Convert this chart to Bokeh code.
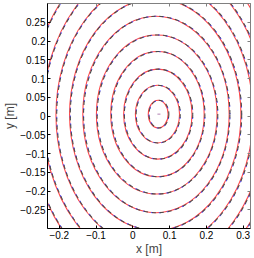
import numpy as np
from bokeh.plotting import figure
from bokeh.models import FixedTicker, ColumnDataSource, LinearAxis
from bokeh.embed import file_html
from bokeh.resources import INLINE

# ---- data ----
# dashed series (gray / blue) contour centres and semi-axes [m]
center_x = [0.071, 0.069, 0.070, 0.069, 0.067, 0.065, 0.063, 0.061, 0.060, 0.059, 0.058]
center_y = [0.005, 0.005, 0.005, 0.005, 0.004, 0.004, 0.004, 0.003, 0.003, 0.003, 0.003]
semi_x = [0.027, 0.060, 0.093, 0.127, 0.164, 0.199, 0.233, 0.268, 0.303, 0.338, 0.373]
semi_y = [0.037, 0.077, 0.120, 0.167, 0.212, 0.262, 0.309, 0.357, 0.405, 0.453, 0.501]
# solid red series, drawn slightly left of the dashed ones
red_center_x = [0.069, 0.067, 0.068, 0.067, 0.065, 0.063, 0.061, 0.059, 0.058, 0.057, 0.056]

x_ticks = [-0.2, -0.1, 0.0, 0.1, 0.2, 0.3]
x_tick_labels = ["\u22120.2", "\u22120.1", "0", "0.1", "0.2", "0.3"]
y_ticks = [-0.25, -0.2, -0.15, -0.1, -0.05, 0.0, 0.05, 0.1, 0.15, 0.2, 0.25]
y_tick_labels = ["\u22120.25", "\u22120.2", "\u22120.15", "\u22120.1", "\u22120.05", "0",
                 "0.05", "0.1", "0.15", "0.2", "0.25"]

src = ColumnDataSource(dict(
    x=center_x, xr=red_center_x, y=center_y,
    w=[2 * a for a in semi_x],
    h=[2 * b for b in semi_y],
))

p = figure(width=254, height=258, x_range=(-0.232, 0.32), y_range=(-0.3, 0.3),
           output_backend="svg", toolbar_location=None,
           min_border_left=45, min_border_right=4, min_border_top=3, min_border_bottom=30)
p.styles = {"position": "absolute", "left": "0px", "top": "0px"}

p.ellipse(x="xr", y="y", width="w", height="h", source=src, fill_color=None,
          line_color="#ff4a4a", line_width=1.1)
p.ellipse(x="x", y="y", width="w", height="h", source=src, fill_color=None,
          line_color="#4a4aff", line_width=1.1, line_dash="2 6", line_dash_offset=5)
p.ellipse(x="x", y="y", width="w", height="h", source=src, fill_color=None,
          line_color="#4a4a4a", line_width=1.1, line_dash="4 4")
p.scatter([center_x[0]], [center_y[0]], size=3, color="#b080b0", marker="dash")

p.xgrid.visible = False
p.ygrid.visible = False
p.outline_line_color = "#808080"
p.background_fill_color = "white"
p.border_fill_color = "white"

font = "Liberation Sans"
for ax, ticks, labels, name in ((p.xaxis[0], x_ticks, x_tick_labels, "x [m]"),
                                (p.yaxis[0], y_ticks, y_tick_labels, "y [m]")):
    ax.ticker = FixedTicker(ticks=ticks)
    ax.major_label_overrides = {t: l for t, l in zip(ticks, labels)}
    ax.minor_tick_line_color = None
    ax.major_tick_in = 3
    ax.major_tick_out = 0
    ax.axis_line_color = "black"
    ax.major_tick_line_color = "black"
    ax.major_label_text_font = font
    ax.major_label_text_font_size = "10px"
    ax.major_label_text_color = "black"
    ax.major_label_standoff = 2
    ax.axis_label = name
    ax.axis_label_text_font = font
    ax.axis_label_text_font_size = "12px"
    ax.axis_label_text_font_style = "normal"
    ax.axis_label_standoff = 0

# mirrored tick marks on top and right (no labels)
for loc, ticks in (("above", x_ticks), ("right", y_ticks)):
    ax = LinearAxis(ticker=FixedTicker(ticks=ticks))
    ax.major_label_overrides = {t: "" for t in ticks}
    ax.major_label_text_font_size = "0px"
    ax.major_label_standoff = 0
    ax.minor_tick_line_color = None
    ax.major_tick_in = 3
    ax.major_tick_out = 0
    ax.axis_line_color = "#808080"
    ax.major_tick_line_color = "#808080"
    p.add_layout(ax, loc)

open("out.html", "w").write(file_html(p, INLINE))
